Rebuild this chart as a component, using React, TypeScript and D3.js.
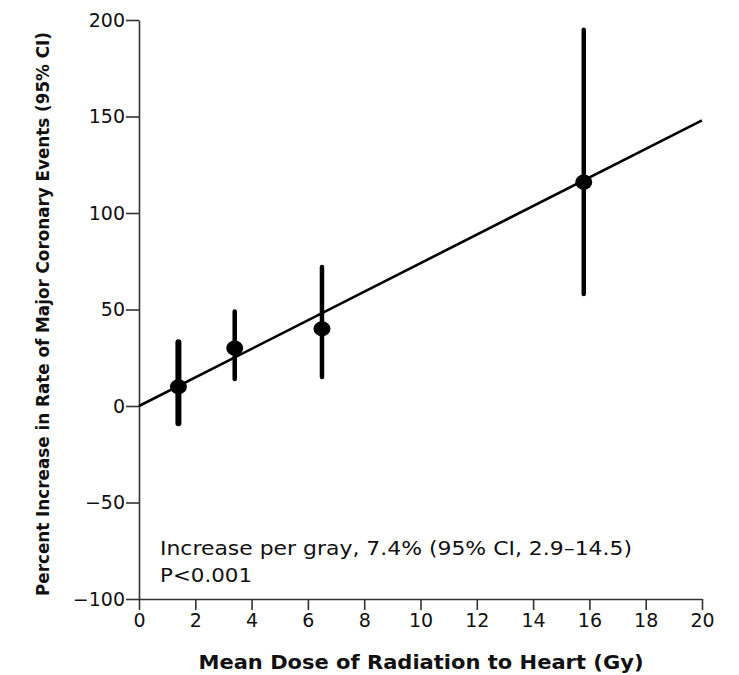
import React, { useEffect, useRef } from "react";
import * as d3 from "d3";

// mean dose groups (Gy) and estimated % increase with 95% CI
const doses = [1.4, 3.4, 6.5, 15.8];
const estimates = [10, 30, 40, 116];
const ciLow = [-9, 14, 15, 58];
const ciHigh = [33, 49, 72, 195];
const barWidths = [6, 4.5, 4.5, 4.5];

const xTicks = [0, 2, 4, 6, 8, 10, 12, 14, 16, 18, 20];
const yTicks = [-100, -50, 0, 50, 100, 150, 200];
const slope = 7.4;

const annotation = ["Increase per gray, 7.4% (95% CI, 2.9\u201314.5)", "P<0.001"];
const annotationLengths = [472, 92];

export default function App() {
  const svgRef = useRef<SVGSVGElement>(null);

  useEffect(() => {
    const svg = d3.select(svgRef.current);
    svg.selectAll("*").remove();

    const width = 739;
    const height = 675;
    const margin = { left: 139, right: 37, top: 20, bottom: 76 };

    const x = d3.scaleLinear().domain([0, 20]).range([margin.left, width - margin.right]);
    const y = d3.scaleLinear().domain([-100, 200]).range([height - margin.bottom, margin.top]);

    const font = "'DejaVu Sans', 'Open Sans', sans-serif";

    // --- AXES ---
    const yAxis = svg
      .append("g")
      .attr("transform", `translate(${margin.left},0)`)
      .call(
        d3
          .axisLeft(y)
          .tickValues(yTicks)
          .tickSize(13)
          .tickPadding(1)
          .tickSizeOuter(0)
          .tickFormat((d) => d3.format("d")(d as number).replace("-", "\u2212"))
      );

    const xAxis = svg
      .append("g")
      .attr("transform", `translate(0,${y(-100)})`)
      .call(d3.axisBottom(x).tickValues(xTicks).tickSize(11).tickPadding(4).tickSizeOuter(0));

    [xAxis, yAxis].forEach((a) => {
      a.select(".domain").attr("stroke", "#333").attr("stroke-width", 1.6);
      a.selectAll(".tick line").attr("stroke", "#333").attr("stroke-width", 1.6);
      a.selectAll(".tick text")
        .attr("fill", "#111")
        .style("font-family", font)
        .style("font-size", "19px");
    });

    // --- REGRESSION LINE ---
    const line = d3
      .line<number>()
      .x((d) => x(d))
      .y((d) => y(d * slope));
    svg
      .append("path")
      .datum([0, 20])
      .attr("d", line)
      .attr("fill", "none")
      .attr("stroke", "#000")
      .attr("stroke-width", 2.6);

    // --- ERROR BARS ---
    svg
      .append("g")
      .selectAll("line")
      .data(doses)
      .join("line")
      .attr("x1", (d) => x(d))
      .attr("x2", (d) => x(d))
      .attr("y1", (_, i) => y(ciLow[i]))
      .attr("y2", (_, i) => y(ciHigh[i]))
      .attr("stroke", "#000")
      .attr("stroke-width", (_, i) => barWidths[i])
      .attr("stroke-linecap", "round");

    // --- POINTS ---
    svg
      .append("g")
      .selectAll("ellipse")
      .data(doses)
      .join("ellipse")
      .attr("cx", (d) => x(d))
      .attr("cy", (_, i) => y(estimates[i]))
      .attr("rx", 8.5)
      .attr("ry", 7.5)
      .attr("fill", "#000");

    // --- ANNOTATION ---
    svg
      .append("g")
      .selectAll("text")
      .data(annotation)
      .join("text")
      .attr("x", 160)
      .attr("y", (_, i) => 555 + i * 27)
      .attr("textLength", (_, i) => annotationLengths[i])
      .attr("lengthAdjust", "spacingAndGlyphs")
      .style("font-family", font)
      .style("font-size", "19px")
      .attr("fill", "#111")
      .text((d) => d);

    // --- AXIS TITLES ---
    svg
      .append("text")
      .attr("x", 421)
      .attr("y", 669)
      .attr("text-anchor", "middle")
      .attr("textLength", 445)
      .attr("lengthAdjust", "spacingAndGlyphs")
      .style("font-family", font)
      .style("font-size", "19px")
      .style("font-weight", "700")
      .attr("fill", "#111")
      .text("Mean Dose of Radiation to Heart (Gy)");

    svg
      .append("text")
      .attr("transform", `translate(49,314) rotate(-90)`)
      .attr("text-anchor", "middle")
      .attr("textLength", 564)
      .attr("lengthAdjust", "spacingAndGlyphs")
      .style("font-family", font)
      .style("font-size", "17px")
      .style("font-weight", "700")
      .attr("fill", "#111")
      .text("Percent Increase in Rate of Major Coronary Events (95% CI)");
  }, []);

  return (
    <svg
      ref={svgRef}
      width={739}
      height={675}
      style={{ position: "absolute", left: 0, top: 0, background: "#fff" }}
    ></svg>
  );
}
